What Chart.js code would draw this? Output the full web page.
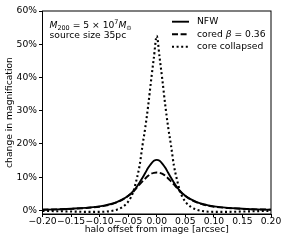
<!DOCTYPE html>
<html>
<head>
<meta charset="utf-8">
<script src="https://cdn.jsdelivr.net/npm/chart.js@4.4.1/dist/chart.umd.min.js"></script>
<style>
  html, body { margin: 0; padding: 0; background: #fff; }
  #chart { display: block; }
</style>
</head>
<body>
<canvas id="chart" width="287" height="246"></canvas>
<script>
// halo offset from image [arcsec]
const offsets = [
  -0.2, -0.175, -0.15, -0.125, -0.1, -0.09, -0.08, -0.07, -0.06, -0.05,
  -0.045, -0.04, -0.035, -0.03, -0.025, -0.02, -0.015, -0.01, -0.005, 0,
  0.005, 0.01, 0.015, 0.02, 0.025, 0.03, 0.035, 0.04, 0.045,
  0.05, 0.06, 0.07, 0.08, 0.09, 0.1, 0.125, 0.15, 0.175, 0.2,
];

// change in magnification [%]
const nfw = [
  0.2, 0.3, 0.5, 0.75, 1.2, 1.5, 1.9, 2.5, 3.3, 4.4,
  5.1, 6.0, 7.1, 8.4, 9.8, 11.3, 12.8, 14.0, 14.9, 15.2,
  14.9, 14.0, 12.8, 11.3, 9.8, 8.4, 7.1, 6.0, 5.1,
  4.4, 3.3, 2.5, 1.9, 1.5, 1.2, 0.75, 0.5, 0.3, 0.2,
];
const cored = [
  0.2, 0.3, 0.45, 0.7, 1.1, 1.4, 1.8, 2.4, 3.2, 4.3,
  5.0, 5.8, 6.8, 7.8, 8.7, 9.6, 10.4, 11.0, 11.3, 11.4,
  11.3, 11.0, 10.4, 9.6, 8.7, 7.8, 6.8, 5.8, 5.0,
  4.3, 3.2, 2.4, 1.8, 1.4, 1.1, 0.7, 0.45, 0.3, 0.2,
];
const collapsed = [
  -0.15, -0.25, -0.35, -0.45, -0.45, -0.4, -0.2, 0.2, 1.0, 2.6,
  4.0, 6.2, 9.5, 13.5, 19.5, 25.0, 31.5, 39.0, 46.0, 52.5,
  46.0, 39.0, 31.5, 25.0, 19.5, 13.5, 9.5, 6.2, 4.0,
  2.6, 1.0, 0.2, -0.2, -0.4, -0.45, -0.45, -0.35, -0.25, -0.15,
];

const xTicks = [-0.2, -0.15, -0.1, -0.05, 0, 0.05, 0.1, 0.15, 0.2];
const yTicks = [0, 10, 20, 30, 40, 50, 60];

const FONT = "DejaVu Sans";
const FS = 9.2;

function points(values) {
  return offsets.map((x, i) => ({ x, y: values[i] }));
}

function fmtX(v) {
  return v.toFixed(2).replace("-", "\u2212");
}

const series = [
  { label: "NFW", data: nfw, dash: [], width: 1.9 },
  { label: "cored", data: cored, dash: [6, 2.6], width: 1.9 },
  { label: "core collapsed", data: collapsed, dash: [2, 2.6], width: 2.1 },
];

// frame, legend and the mass / source-size note
const decorations = {
  id: "decorations",
  afterDraw(chart) {
    const { ctx, chartArea: ca } = chart;
    ctx.save();
    ctx.strokeStyle = "#000";
    ctx.lineWidth = 1;
    ctx.strokeRect(ca.left, ca.top, ca.right - ca.left, ca.bottom - ca.top);

    ctx.fillStyle = "#000";
    ctx.textBaseline = "middle";
    const lx0 = ca.right - 99;
    const lx1 = ca.right - 82;
    const tx = ca.right - 74;
    const rows = [ca.top + 10.7, ca.top + 23.3, ca.top + 35.7];
    series.forEach((s, i) => {
      const y = rows[i];
      ctx.beginPath();
      ctx.setLineDash(s.dash);
      ctx.lineWidth = s.width;
      ctx.moveTo(lx0, y);
      ctx.lineTo(lx1, y);
      ctx.stroke();
      ctx.setLineDash([]);
      let x = tx;
      ctx.font = `${FS}px ${FONT}`;
      if (s.label === "cored") {
        ctx.fillText("cored ", x, y);
        x += ctx.measureText("cored ").width;
        ctx.font = `italic ${FS}px ${FONT}`;
        ctx.fillText("\u03b2", x, y);
        x += ctx.measureText("\u03b2").width;
        ctx.font = `${FS}px ${FONT}`;
        ctx.fillText(" = 0.36", x, y);
      } else {
        ctx.fillText(s.label, x, y);
      }
    });

    // M_200 = 5 x 10^7 M_sun
    const small = `${FS * 0.7}px ${FONT}`;
    let x = ca.left + 7;
    ctx.textBaseline = "alphabetic";
    const base = ca.top + 16.5;
    ctx.font = `italic ${FS}px ${FONT}`;
    ctx.fillText("M", x, base);
    x += ctx.measureText("M").width;
    ctx.font = small;
    ctx.fillText("200", x, base + 2);
    x += ctx.measureText("200").width;
    ctx.font = `${FS}px ${FONT}`;
    ctx.fillText(" = 5 \u00d7 10", x, base);
    x += ctx.measureText(" = 5 \u00d7 10").width;
    ctx.font = small;
    ctx.fillText("7", x, base - 4);
    x += ctx.measureText("7").width;
    ctx.font = `italic ${FS}px ${FONT}`;
    ctx.fillText("M", x, base);
    x += ctx.measureText("M").width;
    ctx.font = small;
    ctx.fillText("\u2299", x, base + 2);

    ctx.font = `${FS}px ${FONT}`;
    ctx.fillText("source size 35pc", ca.left + 7, base + 10);
    ctx.restore();
  },
};

new Chart(document.getElementById("chart"), {
  type: "line",
  data: {
    datasets: series.map((s) => ({
      label: s.label,
      data: points(s.data),
      borderColor: "#000",
      borderWidth: s.width,
      borderDash: s.dash,
      pointRadius: 0,
      fill: false,
      cubicInterpolationMode: "monotone",
    })),
  },
  options: {
    responsive: false,
    animation: false,
    layout: { padding: { left: 0, top: 11, right: 16, bottom: 0 } },
    plugins: {
      legend: { display: false },
      tooltip: { enabled: false },
    },
    scales: {
      x: {
        type: "linear",
        min: -0.2,
        max: 0.2,
        afterBuildTicks: (axis) => {
          axis.ticks = xTicks.map((value) => ({ value }));
        },
        afterFit: (axis) => {
          axis.height = 32;
        },
        grid: {
          display: true,
          drawOnChartArea: false,
          drawTicks: true,
          tickLength: 3,
          tickWidth: 1,
          tickColor: "#000",
        },
        border: { display: true, color: "#000", width: 1 },
        ticks: {
          autoSkip: false,
          maxRotation: 0,
          padding: -1,
          color: "#000",
          font: { family: FONT, size: FS },
          callback: (v) => fmtX(v),
        },
        title: {
          display: true,
          text: "halo offset from image [arcsec]",
          color: "#000",
          font: { family: FONT, size: FS },
          padding: { top: 0, bottom: 10.5 },
        },
      },
      y: {
        type: "linear",
        min: -1.1,
        max: 60,
        afterBuildTicks: (axis) => {
          axis.ticks = yTicks.map((value) => ({ value }));
        },
        afterFit: (axis) => {
          axis.width = 42.5;
        },
        grid: {
          display: true,
          drawOnChartArea: false,
          drawTicks: true,
          tickLength: 3.5,
          tickWidth: 1,
          tickColor: "#000",
        },
        border: { display: true, color: "#000", width: 1 },
        ticks: {
          padding: 2,
          color: "#000",
          font: { family: FONT, size: FS },
          callback: (v) => `${v}%`,
        },
        title: {
          display: true,
          text: "change in magnification",
          color: "#000",
          font: { family: FONT, size: FS },
          padding: { top: 4, bottom: 0 },
        },
      },
    },
  },
  plugins: [decorations],
});
</script>
</body>
</html>
